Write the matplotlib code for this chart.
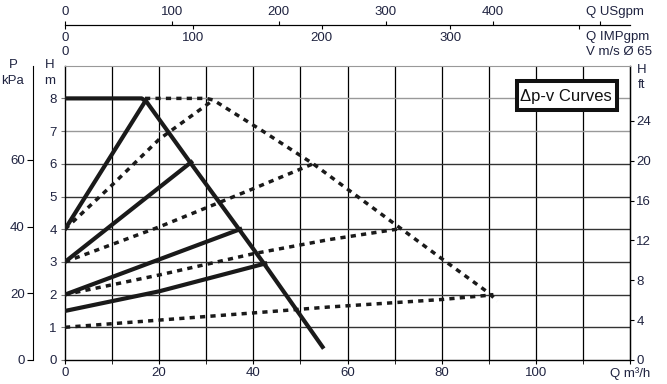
import numpy as np
import matplotlib
matplotlib.use('Agg')
import matplotlib.pyplot as plt
from matplotlib.patches import Rectangle

plt.rcParams['font.family'] = ['Liberation Sans', 'DejaVu Sans']

# max curve (solid) and Δp-v lines, Q in m3/h, H in m
q_max = [0, 16.3, 17.3, 26.8, 37.2, 42.5, 54.7]
h_max = [8, 8, 7.9, 6.0, 3.95, 2.9, 0.4]
q_s1 = [0, 17.2]; h_s1 = [4, 7.95]
q_s2 = [0, 26.8]; h_s2 = [3, 6.05]
q_s3 = [0, 37.2]; h_s3 = [2, 4.0]
q_s4 = [0, 20, 42.5]; h_s4 = [1.5, 2.1, 2.95]

# dotted curves
q_dmax = [17, 30, 31.5, 42, 52.7, 70.4, 80, 90, 91.8]
h_dmax = [8, 8, 7.95, 7.0, 6.0, 4.12, 3.1, 2.05, 1.8]
q_d1 = [0, 10, 20, 31.5]; h_d1 = [4, 5.35, 6.75, 7.95]
q_d2 = [0, 20, 40, 52.7]; h_d2 = [3, 4.07, 5.24, 6.0]
q_d3 = [0, 20, 40, 56, 70.5]; h_d3 = [2, 2.6, 3.25, 3.68, 4.0]
q_d4 = [0, 20, 40, 56, 80, 90, 91]; h_d4 = [1, 1.22, 1.44, 1.62, 1.85, 1.98, 2.0]

us_ticks = [0, 100, 200, 300, 400, 500]
imp_ticks = [0, 100, 200, 300, 400]
kpa_ticks = [0, 20, 40, 60]
ft_ticks = [0, 4, 8, 12, 16, 20, 24]

W, H = 667, 384
tc = '#1f2340'
fs = 9.5

fig = plt.figure(figsize=(W / 100, H / 100), dpi=100)
x0, x1, y0, y1 = 65, 630, 360, 65.7
ax = fig.add_axes([x0 / W, 1 - y0 / H, (x1 - x0) / W, (y0 - y1) / H])
ax.set_xlim(0, 120)
ax.set_ylim(0, 9)

for q in range(10, 120, 10):
    ax.axvline(q, color='k', lw=0.9, zorder=1)
for h in range(1, 9):
    ax.axhline(h, color='#999999' if h >= 7 else '#333333', lw=1.0, zorder=1)
ax.spines['top'].set_color('#999999')
for s in ['left', 'bottom', 'right']:
    ax.spines[s].set_linewidth(1.0)

ax.plot(q_max, h_max, color='#1a1a1a', lw=3.0, solid_joinstyle='round', zorder=4)
for qq, hh in [(q_s1, h_s1), (q_s2, h_s2), (q_s3, h_s3), (q_s4, h_s4)]:
    ax.plot(qq, hh, color='#1a1a1a', lw=3.0, zorder=4)
for qq, hh in [(q_dmax, h_dmax), (q_d1, h_d1), (q_d2, h_d2), (q_d3, h_d3), (q_d4, h_d4)]:
    ax.plot(qq, hh, color='#1a1a1a', lw=2.5, dashes=(1.5, 1.5), zorder=3)

ax.set_xticks([0, 20, 40, 60, 80, 100, 120])
ax.set_xticklabels(['0', '20', '40', '60', '80', '100', 'Q m³/h'])
ax.set_xticks(range(10, 120, 20), minor=True)
ax.tick_params(axis='x', which='both', direction='out', length=3, pad=2,
               labelsize=fs, labelcolor=tc)
ax.set_yticks(range(0, 9))
ax.tick_params(axis='y', direction='out', length=3, pad=3, labelsize=fs,
               labelcolor=tc, color='#777777')

# kPa axis
kp = ax.secondary_yaxis((33 - x0) / (x1 - x0), functions=(lambda h: h * 9.80665, lambda p: p / 9.80665))
kp.set_yticks(kpa_ticks)
kp.tick_params(direction='out', length=4, pad=2, labelsize=fs, labelcolor=tc)

# ft axis
ft = ax.secondary_yaxis('right', functions=(lambda h: h / 0.3048, lambda f: f * 0.3048))
ft.set_yticks(ft_ticks)
ft.tick_params(direction='out', length=3, pad=1.5, labelsize=fs, labelcolor=tc)

# top axes
ytop = (y0 - 25) / (y0 - y1)
us = ax.secondary_xaxis(ytop, functions=(lambda q: q / 0.22712, lambda g: g * 0.22712))
us.set_xticks(us_ticks)
us.set_xticklabels(['0', '100', '200', '300', '400', ''])
us.tick_params(direction='out', length=3, pad=2, labelsize=fs, labelcolor=tc)

imp = ax.secondary_xaxis(ytop, functions=(lambda q: q / 0.27277, lambda g: g * 0.27277))
imp.set_alignment('bottom')
imp.set_xticks(imp_ticks)
imp.set_xticklabels(['0', '100', '200', '300', ''])
imp.tick_params(direction='out', length=3, pad=2, labelsize=fs, labelcolor=tc)

def ftxt(x, y, s, **kw):
    kw.setdefault('fontsize', fs)
    kw.setdefault('color', tc)
    kw.setdefault('va', 'center')
    fig.text(x / W, 1 - y / H, s, **kw)

ftxt(586, 12, 'Q USgpm', ha='left')
ftxt(586, 37, 'Q IMPgpm', ha='left')
ftxt(586, 52, 'V m/s Ø 65', ha='left')
ftxt(65, 52, '0', ha='center')
ftxt(13, 65, 'P', ha='center')
ftxt(13, 81, 'kPa', ha='center')
ftxt(50, 65, 'H', ha='center')
ftxt(50, 81, 'm', ha='center')
ftxt(642, 70, 'H', ha='center')
ftxt(642, 85, 'ft', ha='center')

# Δp-v box
fig.patches.append(Rectangle((517 / W, 1 - 110 / H), 100 / W, 29 / H, transform=fig.transFigure,
                             facecolor='white', edgecolor='#111111', lw=2.9, zorder=10))
fig.text(566 / W, 1 - 96 / H, 'Δp-v Curves', ha='center', va='center', fontsize=12,
         color='#111111', zorder=11)

fig.savefig('out.png', dpi=100)
